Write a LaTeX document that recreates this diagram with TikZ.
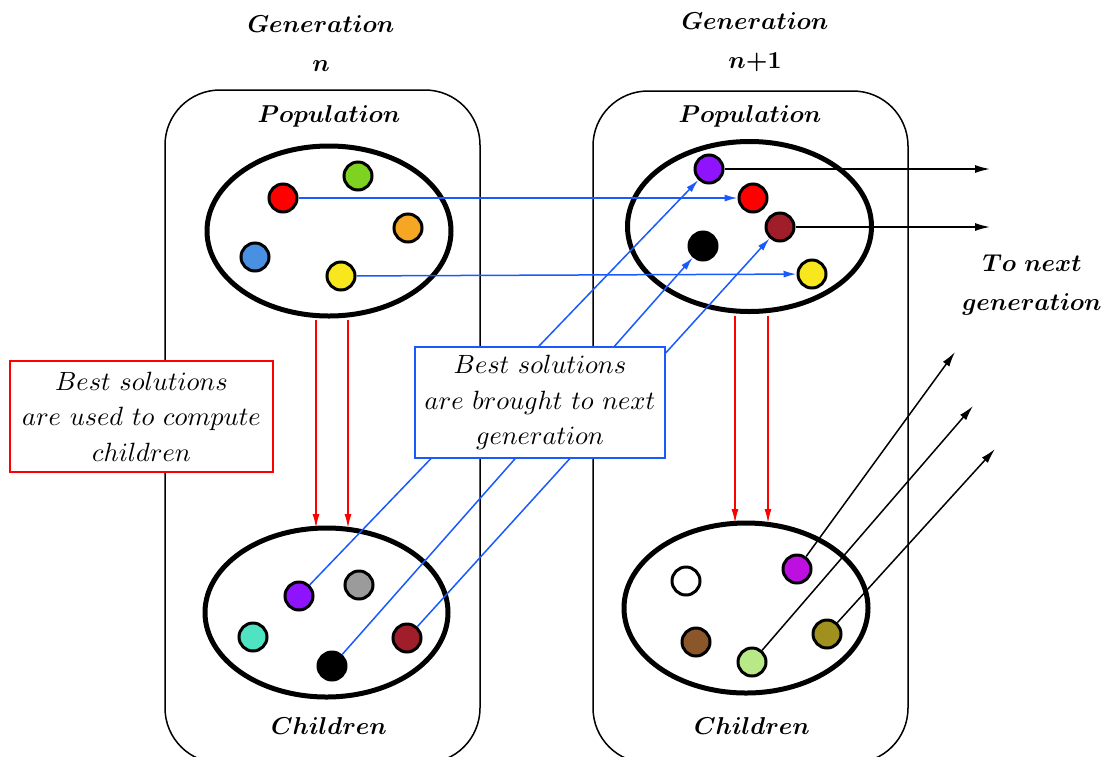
\documentclass[tikz,border=0pt]{standalone}
\usetikzlibrary{arrows.meta}
\definecolor{cred}{RGB}{255,0,0}
\definecolor{cgreen}{RGB}{126,211,33}
\definecolor{corange}{RGB}{245,166,35}
\definecolor{cblue}{RGB}{74,144,226}
\definecolor{cyellow}{RGB}{248,231,28}
\definecolor{cpurple}{RGB}{144,19,254}
\definecolor{cdarkred}{RGB}{160,30,42}
\definecolor{cgray}{RGB}{155,155,155}
\definecolor{cteal}{RGB}{80,227,194}
\definecolor{cmagenta}{RGB}{189,16,224}
\definecolor{cbrown}{RGB}{139,87,42}
\definecolor{clgreen}{RGB}{184,233,134}
\definecolor{colive}{RGB}{160,145,30}
\definecolor{lineblue}{RGB}{25,90,255}
\begin{document}
\begin{tikzpicture}[x=0.5pt,y=-0.5pt,
  ttl/.style={font=\boldmath, align=center, inner sep=0pt, scale=1.22},
  boxtxt/.style={align=center, inner sep=0pt, scale=1.32},
  boxframe/.style={fill=white, line width=0.75pt, inner sep=0pt, minimum height=55.5pt},
  dot/.style={circle, draw=black, line width=1.5pt, minimum size=14pt, inner sep=0pt},
  pool/.style={line width=2.5pt},
  frame/.style={line width=0.75pt, rounded corners=27.5pt},
  blu/.style={draw=lineblue, line width=0.75pt, -{Latex[length=6.5pt,width=3.5pt]}},
  blk/.style={draw=black, line width=0.75pt, -{Latex[length=7.5pt,width=4pt]}},
  redarr/.style={draw=red, line width=0.75pt, -{Latex[length=7pt,width=3.5pt]}}
]
\useasboundingbox (0,0) rectangle (1108,756);

% frames
\draw[frame] (165,90) rectangle (480,763);
\draw[frame] (593,91) rectangle (908,763);

% pools
\draw[pool] (329,231) ellipse [x radius=122, y radius=85];
\draw[pool] (749.5,226.5) ellipse [x radius=122, y radius=85];
\draw[pool] (326.5,612.5) ellipse [x radius=121.5, y radius=84.5];
\draw[pool] (746,608) ellipse [x radius=122, y radius=85];

% titles
\node[ttl] (g1) at (321,44) {$Generation$\\[4pt]$n$};
\node[ttl] (g2) at (755,42) {$Generation$\\[4pt]$n{+}1$};
\node[ttl] (pop1) at (329,116) {$Population$};
\node[ttl] (pop2) at (750,116) {$Population$};
\node[ttl] (ch1) at (329,726) {$Children$};
\node[ttl] (ch2) at (752,726) {$Children$};
\node[ttl] (next) at (1032,285) {$To\ next$\\[4pt]$generation$};

% circles, top-left
\node[dot, fill=cred] (a1) at (283,198) {};
\node[dot, fill=cgreen] (a2) at (358,176) {};
\node[dot, fill=corange] (a3) at (408,228) {};
\node[dot, fill=cblue] (a4) at (255,257) {};
\node[dot, fill=cyellow] (a5) at (341,276) {};
% top-right
\node[dot, fill=cpurple] (b1) at (709,169) {};
\node[dot, fill=cred] (b2) at (753,198) {};
\node[dot, fill=cdarkred] (b3) at (780,227) {};
\node[dot, fill=black] (b4) at (703,246) {};
\node[dot, fill=cyellow] (b5) at (812,274) {};
% bottom-left
\node[dot, fill=cpurple] (c1) at (299,596) {};
\node[dot, fill=cgray] (c2) at (359,585) {};
\node[dot, fill=cteal] (c3) at (253,637) {};
\node[dot, fill=cdarkred] (c4) at (407,638) {};
\node[dot, fill=black] (c5) at (332,666) {};
% bottom-right
\node[dot, fill=white] (d1) at (686,581) {};
\node[dot, fill=cmagenta] (d2) at (797,569) {};
\node[dot, fill=cbrown] (d3) at (696,642) {};
\node[dot, fill=clgreen] (d4) at (752,662) {};
\node[dot, fill=colive] (d5) at (827,634) {};

% blue arrows
\draw[blu] (a1) -- (b2);
\draw[blu] (a5) -- (b5);
\draw[blu] (c1) -- (b1);
\draw[blu] (c5) -- (b4);
\draw[blu] (c4) -- (b3);

% red arrows
\coordinate (r1s) at (316,320);
\coordinate (r1e) at (316,528);
\coordinate (r2s) at (348,320);
\coordinate (r2e) at (348,528);
\coordinate (r3s) at (735,316);
\coordinate (r3e) at (735,523);
\coordinate (r4s) at (768,316);
\coordinate (r4e) at (768,523);
\draw[redarr] (r1s) -- (r1e);
\draw[redarr] (r2s) -- (r2e);
\draw[redarr] (r3s) -- (r3e);
\draw[redarr] (r4s) -- (r4e);

% black arrows
\coordinate (t1) at (990,169);
\coordinate (t2) at (990,227);
\coordinate (t3) at (955,352);
\coordinate (t4) at (973,406);
\coordinate (t5) at (995,449);
\draw[blk] (b1) -- (t1);
\draw[blk] (b3) -- (t2);
\draw[blk] (d2) -- (t3);
\draw[blk] (d4) -- (t4);
\draw[blk] (d5) -- (t5);

% boxes
\node[boxframe, draw=red, minimum width=131.5pt] (rbox) at (141.5,416.5) {};
\node[boxtxt] (rtxt) at (rbox.center)
  {$Best\ solutions$\\[1.5pt]$are\ used\ to\ compute$\\[1.5pt]$children$};
\node[boxframe, draw=lineblue, minimum width=125pt] (bbox) at (540,402.5) {};
\node[boxtxt] (btxt) at (bbox.center)
  {$Best\ solutions$\\[1.5pt]$are\ brought\ to\ next$\\[1.5pt]$generation$};
\end{tikzpicture}
\end{document}
